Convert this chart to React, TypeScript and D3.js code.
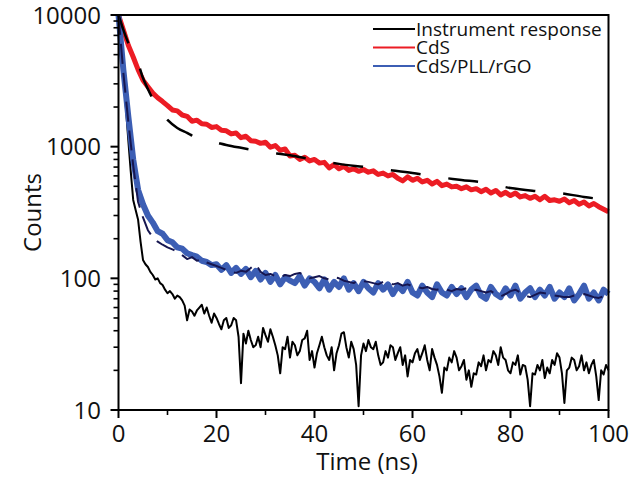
import React from "react";
import * as d3 from "d3";

// sample times (ns) of the measured decays
const TIME_NS = d3.range(0, 101, 1);
const TIME_FINE_NS = d3.range(0, 100.5, 0.5);

const INSTRUMENT = [
  10000, 6000, 3500, 2000, 1120, 650, 394, 330, 278, 190, 138, 128, 122, 112, 106, 98, 100, 92, 89, 82,
  77, 80, 76, 70, 74, 72, 68, 62, 48, 58, 56, 52, 57, 60, 63, 54, 60, 52, 46, 54,
  50, 45, 41, 48, 50, 42, 44, 50, 48, 36, 16, 38, 32, 40, 34, 30, 31, 36, 30, 42,
  37, 33, 41, 36, 31, 26, 19, 30, 29, 36, 25, 33, 31, 26, 28, 34, 35, 40, 24, 28,
  21, 27, 31, 36, 30, 26, 24, 30, 20, 27, 31, 38, 39, 30, 25, 33, 29, 22, 10.7, 26,
  32, 28, 34, 30, 29, 33, 26, 22, 23, 28, 25, 31, 30, 24, 27, 30, 22, 26, 18, 24,
  23, 27, 29, 24, 27, 31, 24, 20, 29, 25, 22, 18, 13.5, 21, 20, 25, 23, 28, 25, 20,
  21.5, 24, 17, 20, 15, 19, 18.6, 23, 21.5, 26, 20, 24, 23, 28, 26, 22, 30, 25, 24, 20,
  19, 23, 22, 26, 18.6, 22, 21.5, 17, 10.7, 19, 18.6, 22, 20, 24, 17.5, 21, 19, 24, 22, 27,
  25, 19, 11.3, 20, 21, 25, 24, 20, 21.5, 26, 20, 23, 19, 22, 24, 18, 11.9, 20, 18.6, 22,
  20,
];

const CDS = [
  10000, 7700, 5900, 4800, 3850, 3200, 2850, 2550, 2350, 2200,
  2050, 1900, 1870, 1740, 1700, 1560, 1590, 1490, 1480, 1400,
  1420, 1330, 1320, 1250, 1270, 1170, 1200, 1110, 1100, 1060,
  1080, 990, 1020, 940, 960, 850, 860, 800, 830, 780,
  800, 750, 760, 690, 730, 680, 710, 660, 680, 650,
  670, 640, 655, 615, 630, 600, 615, 575, 550, 590,
  555, 575, 540, 555, 520, 545, 505, 520, 495, 500,
  480, 495, 470, 480, 455, 475, 445, 465, 430, 450,
  425, 445, 415, 425, 405, 420, 395, 420, 390, 395,
  385, 400, 375, 390, 365, 380, 355, 370, 350, 335,
  320,
];

const CDS_PLL_RGO = [
  10000, 3800, 1700, 800, 470, 365, 300, 265, 228, 218,
  195, 188, 172, 168, 155, 150, 146, 136, 133, 126,
  128, 116, 126, 110, 120, 108, 118, 102, 114, 98,
  110, 94, 106, 90, 102, 96, 92, 104, 88, 100,
  94, 84, 98, 82, 94, 86, 100, 82, 92, 80,
  94, 84, 78, 92, 82, 90, 76, 88, 80, 94,
  78, 74, 88, 78, 72, 90, 78, 74, 86, 76,
  84, 72, 82, 88, 74, 70, 86, 76, 72, 84,
  74, 88, 70, 78, 84, 72, 82, 74, 86, 70,
  78, 72, 84, 68, 76, 88, 70, 78, 68, 82,
  76,
];

const CDS_PLL_RGO_FIT = [
  10000, 3600, 1550, 720, 380, 290, 232, 205, 190, 180,
  172, 166, 160, 150, 140, 145, 136, 140, 132, 128,
  124, 120, 116, 112, 110, 114, 112, 120, 128, 112,
  106, 108, 104, 102, 106, 104, 108, 110, 104, 100,
  102, 104, 100, 98, 102, 100, 96, 94, 92, 97,
  95, 94, 92, 90, 94, 92, 90, 92, 88, 90,
  87, 86, 84, 86, 83, 82, 84, 82, 80, 83,
  82, 84, 80, 82, 80, 78, 80, 76, 73, 76,
  80, 82, 78, 74, 72, 75, 78, 77, 76, 74,
  73, 72, 72, 74, 75, 76, 74, 72, 71, 73,
  72,
];

const CDS_FIT_TIME = [0, 1, 2, 3, 4, 5, 6, 7, 8, 10, 12, 14, 16, 18, 20, 22, 25, 30, 35, 40, 45, 50, 55, 60, 65, 70, 75, 80, 85, 90, 95, 100];
const CDS_FIT = [10000, 7700, 6120, 5140, 4320, 3320, 2740, 2300, 2000, 1595, 1388, 1271, 1165, 1120, 1075, 1030, 980, 912, 860, 793, 740, 702, 666, 631, 589, 559, 530, 485, 461, 445, 415, 394];

const X_TICKS = [0, 20, 40, 60, 80, 100];
const X_MINOR = [10, 30, 50, 70, 90];
const Y_TICKS = [10, 100, 1000, 10000];

const LEGEND_LABELS = ["Instrument response", "CdS", "CdS/PLL/rGO"];
const LEGEND_COLORS = ["#000000", "#ec1c24", "#3c5eb4"];

const W = 632;
const H = 481;
const FONT = "'Open Sans', 'Noto Sans', sans-serif";

export default function App() {
  const x = d3.scaleLinear().domain([0, 100]).range([118.5, 608.5]);
  const y = d3.scaleLog().domain([10, 10000]).range([410, 15]);

  const line = d3
    .line<[number, number]>()
    .x((d) => x(d[0]))
    .y((d) => y(d[1]));
  const smooth = d3
    .line<[number, number]>()
    .x((d) => x(d[0]))
    .y((d) => y(d[1]))
    .curve(d3.curveMonotoneX);

  const pairs = (times: number[], vals: number[]) => times.map((t, i) => [t, vals[i]] as [number, number]);

  const minorY: number[] = [];
  for (const dec of [10, 100, 1000]) {
    for (let k = 2; k <= 9; k++) minorY.push(dec * k);
  }

  const x0 = x(0);
  const x1 = x(100);
  const yTop = y(10000);
  const yBot = y(10);

  return (
    <div>
      <style>{`body{margin:0}`}</style>
      <svg width={W} height={H} style={{ display: "block", background: "#fff" }}>
        {/* data */}
        <path d={line(pairs(TIME_FINE_NS, INSTRUMENT)) || ""} fill="none" stroke="#000" strokeWidth={2} strokeLinejoin="round" />
        <path d={line(pairs(TIME_NS, CDS)) || ""} fill="none" stroke={LEGEND_COLORS[1]} strokeWidth={5} strokeLinejoin="round" />
        <path d={line(pairs(TIME_NS, CDS_PLL_RGO)) || ""} fill="none" stroke={LEGEND_COLORS[2]} strokeWidth={6} strokeLinejoin="round" />
        {/* fits */}
        <path
          d={smooth(pairs(CDS_FIT_TIME, CDS_FIT)) || ""}
          fill="none"
          stroke="#000"
          strokeWidth={2.5}
          strokeDasharray="30,28"
        />
        <path
          d={line(pairs(TIME_NS, CDS_PLL_RGO_FIT)) || ""}
          fill="none"
          stroke="#161650"
          strokeWidth={2}
          strokeDasharray="20,9"
          strokeLinejoin="round"
        />

        {/* frame */}
        <path d={`M${x0},${yBot}V${yTop}H${x1}V${yBot}H${x0}`} fill="none" stroke="#000" strokeWidth={2} />

        {/* y ticks */}
        {Y_TICKS.map((v) => (
          <g key={"yt" + v}>
            <line x1={x0 - 8} x2={x0} y1={y(v)} y2={y(v)} stroke="#000" strokeWidth={2} />
            <text x={101} y={y(v)} dy="0.36em" textAnchor="end" fontFamily={FONT} fontSize={24} fill="#111">
              {v}
            </text>
          </g>
        ))}
        {minorY.map((v) => (
          <line key={"ym" + v} x1={x0 - 5} x2={x0} y1={y(v)} y2={y(v)} stroke="#000" strokeWidth={1.6} />
        ))}

        {/* x ticks */}
        {X_TICKS.map((v) => (
          <g key={"xt" + v}>
            <line x1={x(v)} x2={x(v)} y1={yBot} y2={yBot + 8} stroke="#000" strokeWidth={2} />
            <text x={x(v)} y={yBot + 32} textAnchor="middle" fontFamily={FONT} fontSize={24} fill="#111">
              {v}
            </text>
          </g>
        ))}
        {X_MINOR.map((v) => (
          <line key={"xm" + v} x1={x(v)} x2={x(v)} y1={yBot} y2={yBot + 5} stroke="#000" strokeWidth={1.6} />
        ))}

        {/* axis titles */}
        <text x={367} y={470} textAnchor="middle" fontFamily={FONT} fontSize={24} fill="#111">
          Time (ns)
        </text>
        <text
          transform={`translate(41,${(yTop + yBot) / 2}) rotate(-90)`}
          textAnchor="middle"
          fontFamily={FONT}
          fontSize={24}
          fill="#111"
        >
          Counts
        </text>

        {/* legend */}
        {LEGEND_LABELS.map((lab, i) => {
          const ly = 29 + i * 18.5;
          return (
            <g key={lab}>
              <line x1={373} x2={415} y1={ly} y2={ly} stroke={LEGEND_COLORS[i]} strokeWidth={2.2} />
              <text x={416} y={ly} dy="0.36em" fontFamily={FONT} fontSize={19} fill="#111">
                {lab}
              </text>
            </g>
          );
        })}
      </svg>
    </div>
  );
}
